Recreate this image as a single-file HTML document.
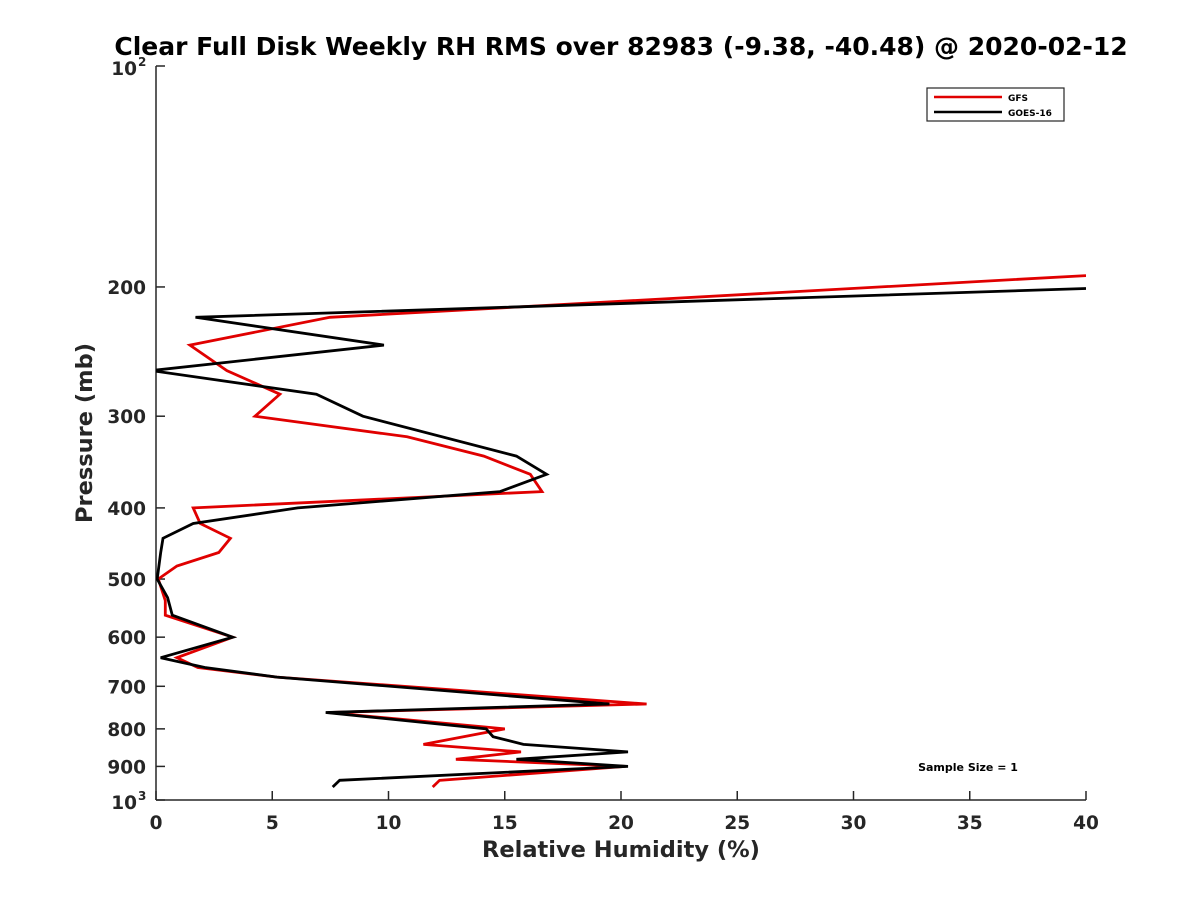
<!DOCTYPE html>
<html><head><meta charset="utf-8"><style>
body{margin:0;background:#fff;}
svg text{font-family:"DejaVu Sans","Liberation Sans",sans-serif;font-weight:bold;fill:#262626;}
</style></head><body>
<svg id="chart" width="1200" height="900" xmlns="http://www.w3.org/2000/svg">
<rect width="1200" height="900" fill="#fff"/>
<defs><clipPath id="plotclip"><rect x="156" y="66" width="930" height="734"/></clipPath></defs>
<text x="621" y="55" text-anchor="middle" font-size="25" style="fill:#000">Clear Full Disk Weekly RH RMS over 82983 (-9.38, -40.48) @ 2020-02-12</text>
<g id="axes"></g>
<g id="series" clip-path="url(#plotclip)"></g>
<g>
<rect x="927" y="88" width="137" height="33" fill="#fff" stroke="#262626" stroke-width="1.2"/>
<line x1="934" y1="97" x2="1002" y2="97" stroke="#e00000" stroke-width="2.5"/>
<text x="1008" y="101" font-size="9" style="fill:#000">GFS</text>
<line x1="934" y1="112" x2="1002" y2="112" stroke="#000" stroke-width="2.5"/>
<text x="1008" y="116" font-size="9" style="fill:#000">GOES-16</text>
</g>
<text x="968" y="771" text-anchor="middle" font-size="11" style="fill:#000">Sample Size = 1</text>
<text x="621" y="857" text-anchor="middle" font-size="22.5">Relative Humidity (%)</text>
<text transform="translate(92,433) rotate(-90)" text-anchor="middle" font-size="22.5">Pressure (mb)</text>
</svg>
<script>
const xTicks = [0,5,10,15,20,25,30,35,40];
const yTicks = [200,300,400,500,600,700,800,900];
const gfsRH = [40,7.48,1.46,3.05,5.33,4.26,10.8,14.1,16.1,16.6,1.6,1.9,3.2,2.7,0.9,0.1,0.4,0.4,3.3,0.9,1.8,5.2,21.1,7.4,14.1,15.0,11.5,15.7,12.9,20.2,12.2,11.9];
const gfsP  = [193,220,240,260,280,300,320,340,360,380,400,420,440,460,480,500,535,560,600,640,660,680,740,760,795,800,840,860,880,900,940,960];
const goesRH = [40,1.7,9.8,-0.2,6.9,8.9,15.5,16.8,14.8,6.1,1.6,0.3,0.2,0.05,0.5,0.7,3.3,0.2,2.1,5.2,19.5,7.3,14.2,14.5,15.8,20.3,15.5,20.3,7.9,7.6];
const goesP  = [201,220,240,260,280,300,340,360,380,400,420,440,460,500,530,560,600,640,660,680,740,760,800,820,840,860,880,900,940,960];

const X0=156,X1=1086,Y0=66,Y1=800;
const sx=v=>X0+(v-0)/(40-0)*(X1-X0);
const sy=p=>Y0+(Math.log10(p)-2)*(Y1-Y0);
const NS="http://www.w3.org/2000/svg";
function mk(tag,attrs,parent){const e=document.createElementNS(NS,tag);for(const k in attrs)e.setAttribute(k,attrs[k]);parent.appendChild(e);return e;}
const axes=document.getElementById('axes');
const yl=mk('line',{x1:X0,y1:Y0,x2:X0,y2:Y1,stroke:'#262626','stroke-width':1.5},axes);


const xl=mk('line',{x1:X0,y1:Y1,x2:X1,y2:Y1,stroke:'#262626','stroke-width':1.5},axes);


xTicks.forEach(v=>{
  const x=sx(v);
  mk('line',{x1:x,y1:Y1,x2:x,y2:Y1-9,stroke:'#262626','stroke-width':1.5},axes);
  const t=mk('text',{x:x,y:Y1+29,'text-anchor':'middle','font-size':18.5},axes);
  t.textContent=v;
  
  
});
yTicks.forEach(p=>{
  const y=sy(p);
  mk('line',{x1:X0,y1:y,x2:X0+9,y2:y,stroke:'#262626','stroke-width':1.5},axes);
  const t=mk('text',{x:X0-10,y:y+7,'text-anchor':'end','font-size':18.5},axes);
  t.textContent=p;
  
  
});
[[100,Y0],[1000,Y1]].forEach(([p,y])=>{
  mk('line',{x1:X0,y1:y,x2:X0+9,y2:y,stroke:'#262626','stroke-width':1.5},axes);
  const t=mk('text',{x:X0-19,y:y+9,'text-anchor':'end','font-size':18.5},axes);
  t.textContent='10';
  
  
  const s=mk('text',{x:X0-18,y:y,'font-size':12},axes);
  s.textContent=p===100?'2':'3';
  
  
});
const series=document.getElementById('series');
function drawLine(vals,ps,color,name){
  const pts=vals.map((v,i)=>sx(v).toFixed(1)+','+sy(ps[i]).toFixed(1)).join(' ');
  const pl=mk('polyline',{points:pts,fill:'none',stroke:color,'stroke-width':2.8,'stroke-linejoin':'miter'},series);
  
  
}
drawLine(gfsRH,gfsP,'#e00000','gfs-line');
drawLine(goesRH,goesP,'#000000','goes16-line');
</script>
</body></html>
